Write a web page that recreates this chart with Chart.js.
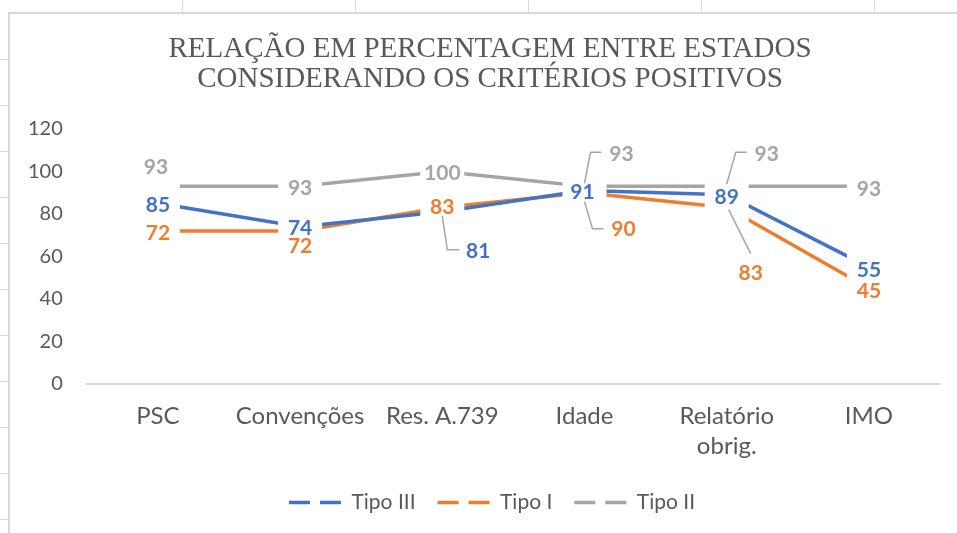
<!DOCTYPE html>
<html>
<head>
<meta charset="utf-8">
<script src="https://cdn.jsdelivr.net/npm/chart.js@4/dist/chart.umd.min.js"></script>
<style>
  body { margin: 0; background: #fff; }
  #topTicks { position: absolute; left: 10px; top: 0; width: 947px; height: 12px;
    background: repeating-linear-gradient(to right, transparent 0 172px, #d9d9d9 172px 173px); }
  #leftTicks { position: absolute; left: 0; top: 14px; width: 8px; height: 519px;
    background: repeating-linear-gradient(to bottom, transparent 0 45px, #d9d9d9 45px 46px); }
  #frame { position: absolute; left: 8px; top: 12px; width: 949px; height: 521px;
    border-left: 2px solid #d9d9d9; border-top: 2px solid #d9d9d9; }
</style>
</head>
<body>
<div id="topTicks"></div>
<div id="leftTicks"></div>
<div id="frame"><canvas id="chart" width="947" height="519"></canvas></div>
<script>
const categories = ['PSC', 'Convenções', 'Res. A.739', 'Idade', ['Relatório', 'obrig.'], 'IMO'];
const tipoIII = [85, 74, 81, 91, 89, 55];
const tipoI = [72, 72, 83, 90, 83, 45];
const tipoII = [93, 93, 100, 93, 93, 93];
const yTicks = [0, 20, 40, 60, 80, 100, 120];

// label offsets from the point, and leader lines (relative to the point)
const labelOffsets = [
  [[0, 2], [0, 2], [36, 39], [-2, 2], [0, 2], [0, 3]],
  [[0, 2], [0, 15], [0, 0], [39, 37], [24, 66], [0, 3]],
  [[-2, -19], [0, 2], [0, 2], [37, -32], [40, -32], [0, 3]]
];
const leaders = [
  { 2: [[0, 4], [5, 38], [17, 38]] },
  { 3: [[0, 9], [8, 36], [19, 36]], 4: [[2, 2], [24, 46]] },
  { 3: [[17, -34], [6, -34], [0, -3]], 4: [[20, -34], [9, -34], [0, -2]] }
];

// title and legend sit a bit right of the canvas centre
const shiftPlugin = {
  id: 'shift',
  beforeDraw(chart) {
    if (chart.$shifted) return;
    chart.$shifted = true;
    chart.titleBlock.left += 28;
    chart.legend.left += 16;
    chart.legend.right += 16;
  }
};

const gapPlugin = {
  id: 'gaps',
  afterDatasetsDraw(chart) {
    const ctx = chart.ctx;
    const area = chart.chartArea;
    const xs = chart.scales.x;
    ctx.save();
    ctx.fillStyle = '#fff';
    categories.forEach((c, i) => {
      const x = xs.getPixelForValue(i);
      ctx.fillRect(x - 22, area.top, 44, area.bottom - area.top - 2);
    });
    ctx.restore();
  }
};

const labelPlugin = {
  id: 'pointLabels',
  afterDatasetsDraw(chart) {
    const ctx = chart.ctx;
    ctx.save();
    chart.data.datasets.forEach((ds, d) => {
      const meta = chart.getDatasetMeta(d);
      meta.data.forEach((pt, i) => {
        const lead = leaders[d][i];
        if (lead) {
          ctx.strokeStyle = '#a6a6a6';
          ctx.lineWidth = 1.5;
          ctx.beginPath();
          lead.forEach((p, k) => {
            if (k === 0) ctx.moveTo(pt.x + p[0], pt.y + p[1]);
            else ctx.lineTo(pt.x + p[0], pt.y + p[1]);
          });
          ctx.stroke();
        }
        const off = labelOffsets[d][i];
        ctx.font = 'bold 21px Lato';
        ctx.fillStyle = ds.borderColor;
        ctx.textAlign = 'center';
        ctx.textBaseline = 'middle';
        ctx.fillText(ds.data[i], pt.x + off[0], pt.y + off[1]);
      });
    });
    ctx.restore();
  }
};

new Chart('chart', {
  type: 'line',
  data: {
    labels: categories,
    datasets: [
      { label: 'Tipo III', data: tipoIII, borderColor: '#4472C4', backgroundColor: '#4472C4' },
      { label: 'Tipo I', data: tipoI, borderColor: '#ED7D31', backgroundColor: '#ED7D31' },
      { label: 'Tipo II', data: tipoII, borderColor: '#A5A5A5', backgroundColor: '#A5A5A5' }
    ]
  },
  options: {
    responsive: false,
    animation: false,
    devicePixelRatio: 1,
    elements: {
      line: { borderWidth: 3.5, tension: 0 },
      point: { radius: 0, hoverRadius: 0 }
    },
    layout: { padding: { left: 2, right: 17, top: 0, bottom: 10 } },
    scales: {
      x: {
        offset: true,
        grid: { display: false, offset: true },
        border: { display: true, color: '#d9d9d9', width: 2 },
        ticks: { color: '#595959', font: { family: 'Lato', size: 24, lineHeight: 1.25 }, padding: 9, maxRotation: 0 }
      },
      y: {
        min: 0,
        max: 120,
        afterBuildTicks(axis) { axis.ticks = yTicks.map(v => ({ value: v })); },
        grid: { display: false },
        border: { display: false },
        ticks: { color: '#595959', font: { family: 'Lato', size: 20 }, padding: 16 }
      }
    },
    plugins: {
      title: {
        display: true,
        text: ['RELAÇÃO EM PERCENTAGEM ENTRE ESTADOS', 'CONSIDERANDO OS CRITÉRIOS POSITIVOS'],
        color: '#595959',
        font: { family: 'Liberation Serif', size: 29, weight: 'normal', lineHeight: 1.05 },
        padding: { top: 20, bottom: 34 }
      },
      legend: {
        position: 'bottom',
        labels: {
          color: '#595959',
          font: { family: 'Lato', size: 21 },
          usePointStyle: true,
          pointStyleWidth: 52,
          boxWidth: 52,
          padding: 22,
          generateLabels(chart) {
            return chart.data.datasets.map((ds, i) => ({
              text: ds.label,
              fillStyle: ds.borderColor,
              strokeStyle: ds.borderColor,
              pointStyle: 'line',
              lineWidth: 3.5,
              lineDash: [21, 10],
              fontColor: '#595959',
              datasetIndex: i
            }));
          }
        }
      },
      tooltip: { enabled: false }
    }
  },
  plugins: [shiftPlugin, gapPlugin, labelPlugin]
});
</script>
</body>
</html>
